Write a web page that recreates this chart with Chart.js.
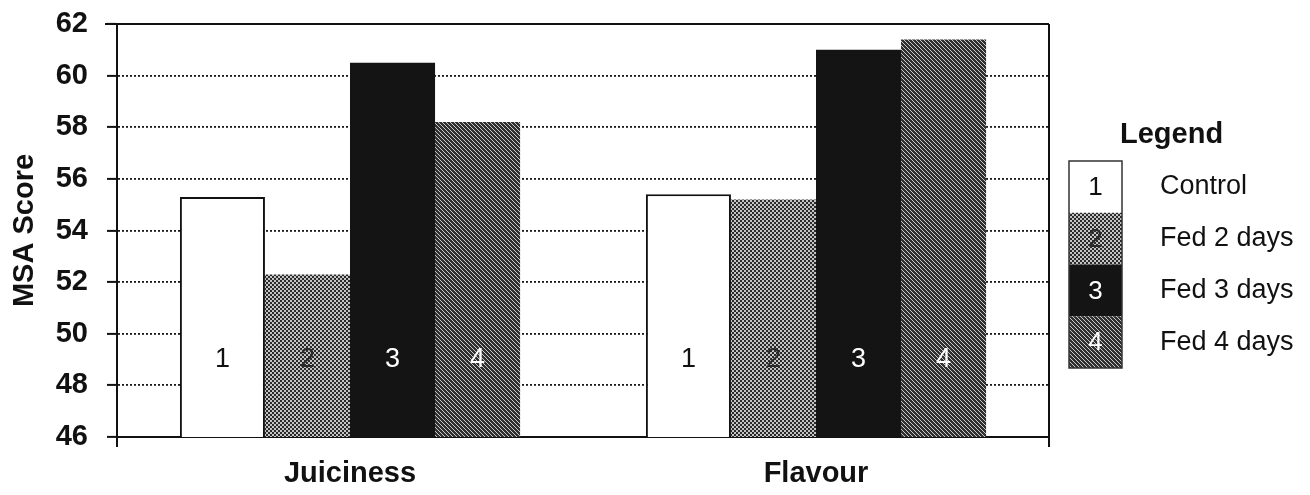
<!DOCTYPE html>
<html>
<head>
<meta charset="utf-8">
<script src="https://cdn.jsdelivr.net/npm/chart.js@4.4.1/dist/chart.umd.min.js"></script>
<style>
  html, body { margin: 0; padding: 0; background: #ffffff; }
  #wrap { width: 1310px; height: 495px; position: relative; }
</style>
</head>
<body>
<div id="wrap"><canvas id="c" width="1310" height="495"></canvas></div>
<script>
// ---- data ----
const categories = ['Juiciness', 'Flavour'];
const seriesNames = ['Control', 'Fed 2 days', 'Fed 3 days', 'Fed 4 days'];
const seriesTags = ['1', '2', '3', '4'];
const controlValues = [55.3, 55.4];
const fed2Values = [52.3, 55.2];
const fed3Values = [60.5, 61.0];
const fed4Values = [58.2, 61.4];
const yTickValues = [46, 48, 50, 52, 54, 56, 58, 60, 62];

// ---- patterns ----
function checkerPattern() {
  const t = document.createElement('canvas');
  t.width = 4; t.height = 4;
  const g = t.getContext('2d');
  g.fillStyle = '#c4c4c4'; g.fillRect(0, 0, 4, 4);
  g.fillStyle = '#2a2a2a';
  g.fillRect(0, 0, 2, 2); g.fillRect(2, 2, 2, 2);
  return g.createPattern(t, 'repeat');
}
function stripePattern() {
  const t = document.createElement('canvas');
  t.width = 4; t.height = 4;
  const g = t.getContext('2d');
  g.fillStyle = '#303030'; g.fillRect(0, 0, 4, 4);
  g.fillStyle = '#c8c8c8';
  for (let y = 0; y < 4; y++) { g.fillRect(y % 4, y, 1, 1); }
  return g.createPattern(t, 'repeat');
}
const fills = ['#ffffff', checkerPattern(), '#141414', stripePattern()];
const tagColors = ['#111111', '#2a2a2a', '#ffffff', '#ffffff'];
const seriesValues = [controlValues, fed2Values, fed3Values, fed4Values];

const FONT = '"Liberation Sans", Arial, Helvetica, sans-serif';

const decor = {
  id: 'decor',
  afterDatasetsDraw(chart) {
    const ctx = chart.ctx;
    const ya = chart.scales.y;
    ctx.save();
    ctx.font = '27px ' + FONT;
    ctx.textAlign = 'center';
    ctx.textBaseline = 'middle';
    chart.data.datasets.forEach((ds, i) => {
      const meta = chart.getDatasetMeta(i);
      meta.data.forEach(el => {
        ctx.fillStyle = tagColors[i];
        ctx.fillText(seriesTags[i], el.x, ya.getPixelForValue(49));
      });
    });
    ctx.restore();
  },
  afterDraw(chart) {
    const ctx = chart.ctx;
    const a = chart.chartArea;
    ctx.save();
    ctx.strokeStyle = '#111';
    ctx.lineWidth = 2;
    ctx.beginPath();
    ctx.moveTo(a.left - 12, a.top); ctx.lineTo(a.right, a.top);
    ctx.moveTo(a.right, a.top); ctx.lineTo(a.right, a.bottom + 10);
    ctx.moveTo(a.left, a.bottom); ctx.lineTo(a.left, a.bottom + 10);
    ctx.stroke();

    // legend
    const bx = 1069, bw = 53, by = 161, bh = 51.75;
    ctx.font = 'bold 29px ' + FONT;
    ctx.fillStyle = '#111';
    ctx.textAlign = 'left';
    ctx.textBaseline = 'middle';
    ctx.fillText('Legend', 1120, 135);
    chart.data.datasets.forEach((ds, i) => {
      const y0 = by + i * bh;
      ctx.fillStyle = ds.backgroundColor;
      ctx.fillRect(bx, y0, bw, bh);
      ctx.font = '26px ' + FONT;
      ctx.textAlign = 'center';
      ctx.fillStyle = tagColors[i];
      ctx.fillText(seriesTags[i], bx + bw / 2, y0 + bh / 2 + 1);
      ctx.textAlign = 'left';
      ctx.fillStyle = '#111';
      ctx.font = '27px ' + FONT;
      ctx.fillText(ds.label, 1160, y0 + bh / 2);
    });
    ctx.lineWidth = 1.5;
    ctx.strokeStyle = '#333';
    ctx.strokeRect(bx, by, bw, bh * 4);
    ctx.restore();
  }
};

new Chart(document.getElementById('c'), {
  type: 'bar',
  data: {
    labels: categories,
    datasets: seriesNames.map((name, i) => ({
      label: name,
      data: seriesValues[i],
      backgroundColor: fills[i],
      borderColor: '#111',
      borderWidth: i === 0 ? 2 : 0,
      borderSkipped: 'bottom',
      categoryPercentage: 0.73,
      barPercentage: 1.0
    }))
  },
  options: {
    responsive: false,
    animation: false,
    devicePixelRatio: 1,
    layout: { padding: { left: 0, top: 24, right: 261, bottom: 0 } },
    plugins: { legend: { display: false }, tooltip: { enabled: false } },
    scales: {
      x: {
        grid: { display: false, drawTicks: false },
        border: { display: true, color: '#111', width: 2 },
        ticks: { color: '#111', font: { family: FONT, size: 29, weight: 'bold' }, padding: 20 },
        afterFit(s) { s.height = 58; s.paddingLeft = 0; s.paddingRight = 0; }
      },
      y: {
        min: 46, max: 62,
        afterBuildTicks(s) { s.ticks = yTickValues.map(v => ({ value: v })); },
        grid: {
          color: ctx => (ctx.tick && (ctx.tick.value === 46 || ctx.tick.value === 62)) ? 'rgba(0,0,0,0)' : '#1a1a1a',
          lineWidth: 1.8,
          tickColor: '#111',
          tickWidth: 2,
          tickLength: 10,
          tickBorderDash: []
        },
        border: { display: true, color: '#111', width: 2, dash: [2, 2] },
        ticks: { color: '#111', font: { family: FONT, size: 29, weight: 'bold' }, padding: 19 },
        title: {
          display: true, text: 'MSA Score', color: '#111',
          font: { family: FONT, size: 29, weight: 'bold' },
          padding: { top: 8, bottom: 0 }
        },
        afterFit(s) { s.width = 117; s.paddingTop = 0; s.paddingBottom = 0; }
      }
    }
  },
  plugins: [decor]
});
</script>
</body>
</html>
